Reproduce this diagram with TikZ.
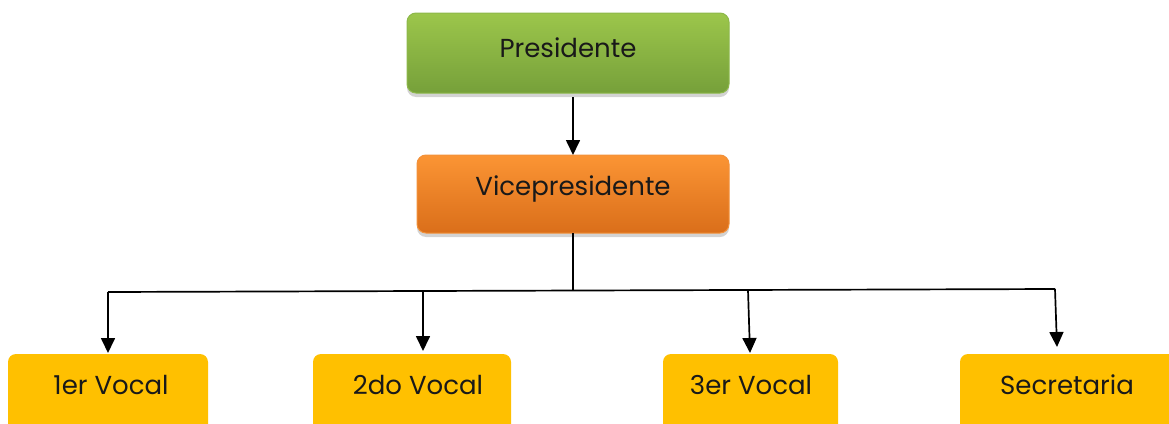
\documentclass[tikz,border=0pt]{standalone}
\usepackage{fontspec}
\setmainfont{Poppins}
\usetikzlibrary{arrows.meta,shadows}
\definecolor{gtop}{HTML}{9CC64B}
\definecolor{gbot}{HTML}{76A03A}
\definecolor{gedge}{HTML}{8DB84A}
\definecolor{otop}{HTML}{FB9534}
\definecolor{obot}{HTML}{DA6E1A}
\definecolor{oedge}{HTML}{F2913A}
\definecolor{ybox}{HTML}{FFC000}
\tikzset{
  x=1pt,y=-1pt,
  topbox/.style={rounded corners=9pt, draw=#1, line width=1pt,
    drop shadow={opacity=0.35, shadow xshift=0pt, shadow yshift=-4pt}},
  vocal/.style={fill=ybox, rounded corners=8pt, draw=none},
  lbl/.style={text=black!90, font=\fontsize{26}{30}\selectfont, inner sep=0pt},
  conn/.style={line width=1.7pt, black},
  arr/.style={conn, -{Triangle[width=14pt,length=15pt]}},
}
\begin{document}
\begin{tikzpicture}
\useasboundingbox (0,0) rectangle (1169,423);
\clip (0,0) rectangle (1169,423);
% top boxes
\shade[topbox=gedge, top color=gtop, bottom color=gbot] (407,13) rectangle (729,93);
\node[lbl] (pres) at (568,48) {Presidente};
\coordinate (presB) at (573,97);
\shade[topbox=oedge, top color=otop, bottom color=obot] (417,155) rectangle (729,233);
\node[lbl] (vice) at (573,189) {Vicepresidente};
\coordinate (viceT) at (573,155);
\coordinate (viceB) at (573,233);
% bottom boxes
\fill[vocal] (8,354) rectangle (208,440);
\fill[vocal] (313,354) rectangle (511,440);
\fill[vocal] (663,354) rectangle (838,440);
\fill[vocal] (960,354) rectangle (1180,440);
\node[lbl] (v1) at (111,385) {1er Vocal};
\node[lbl] (v2) at (418,385) {2do Vocal};
\node[lbl] (v3) at (751,385) {3er Vocal};
\node[lbl] (sec) at (1067,385) {Secretaria};
\coordinate (v1T) at (108,353);
\coordinate (v2T) at (423,351);
\coordinate (v3T) at (750,353);
\coordinate (secT) at (1057,347);
\coordinate (j) at (573,291);
\coordinate (b1) at (108,292);
\coordinate (b2) at (423,292);
\coordinate (b3) at (748,290);
\coordinate (b4) at (1055,289);
% connectors
\draw[arr] (presB) -- (viceT);
\draw[conn] (viceB) -- (j);
\draw[conn] (b1) -- (b4);
\draw[arr] (b1) -- (v1T);
\draw[arr] (b2) -- (v2T);
\draw[arr] (b3) -- (v3T);
\draw[arr] (b4) -- (secT);
\end{tikzpicture}
\end{document}
